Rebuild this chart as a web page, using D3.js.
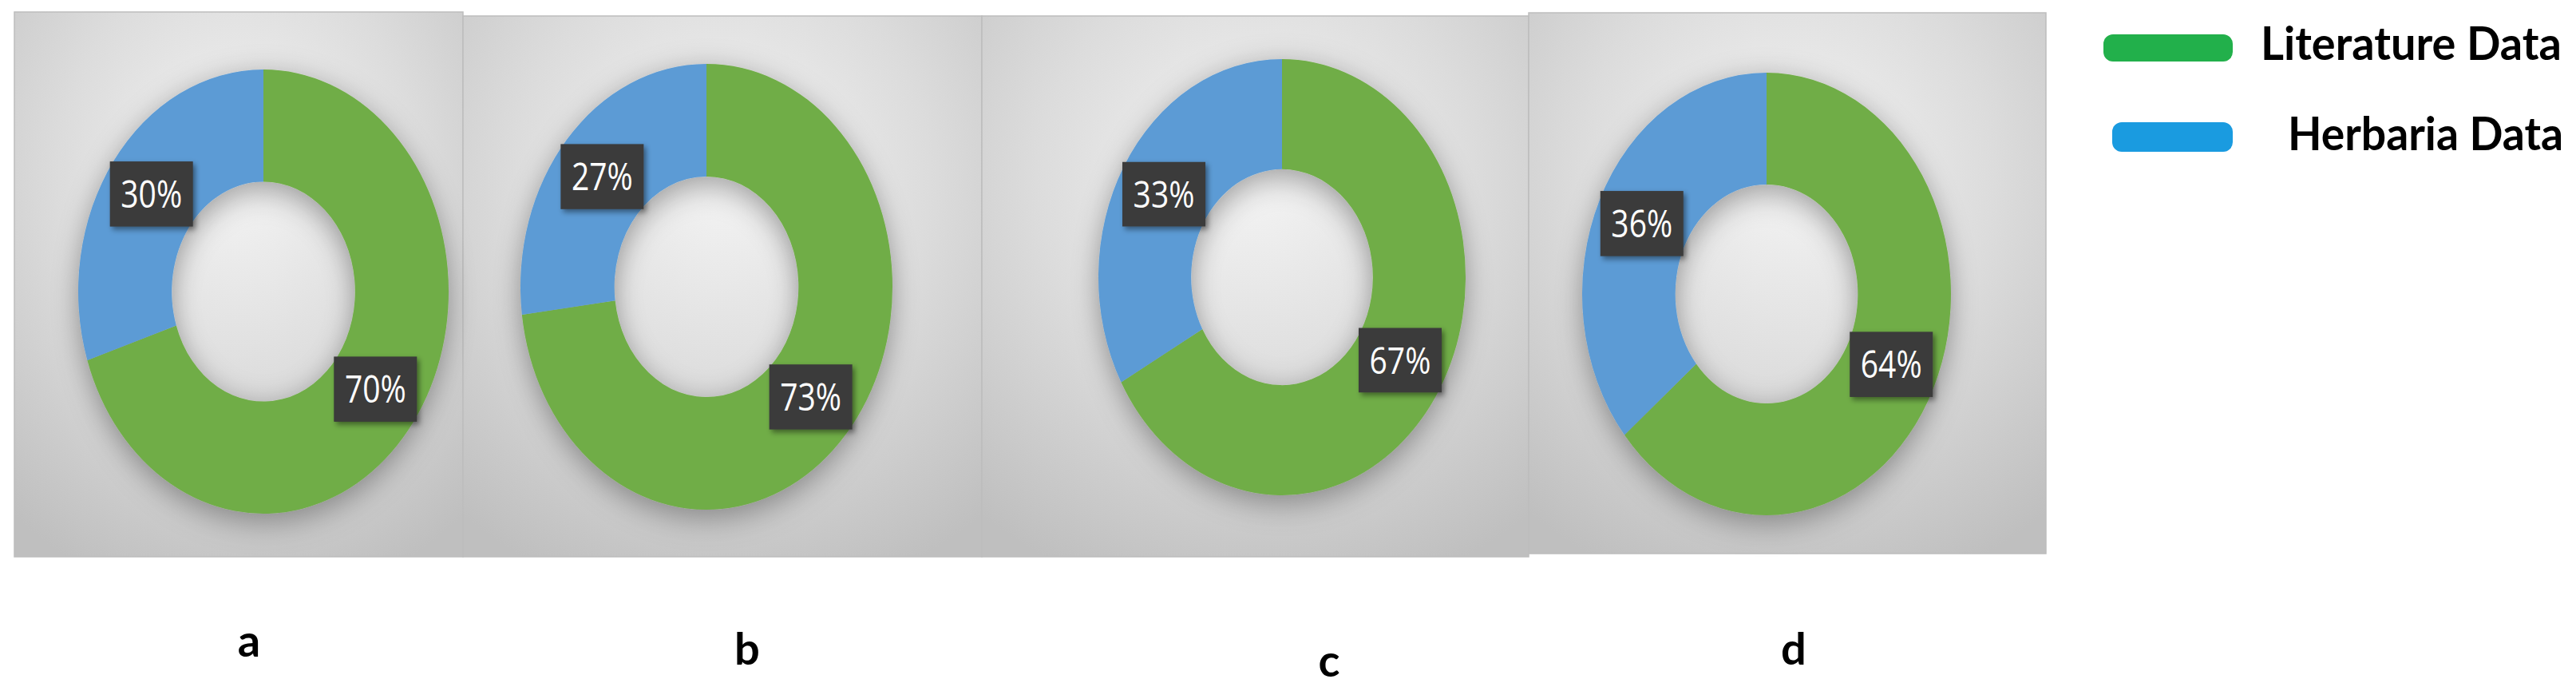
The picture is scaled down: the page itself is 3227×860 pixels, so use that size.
<!DOCTYPE html>
<html>
<head>
<meta charset="utf-8">
<script src="https://cdn.jsdelivr.net/npm/d3@7"></script>
<style>
  body { margin: 0; background: #fff; }
  svg { display: block; }
</style>
</head>
<body>
<div id="chart"></div>
<script>
// Data
const panelNames = ["a", "b", "c", "d"];
const seriesNames = ["Literature Data", "Herbaria Data"];
const literatureData = [70, 73, 67, 64];
const herbariaData = [30, 27, 33, 36];

// Layout (pixels)
const width = 3227, height = 860;
const panelBoxes = [
    { x0: 18, x1: 580, y0: 15, y1: 697 },
    { x0: 580, x1: 1230, y0: 20, y1: 697 },
    { x0: 1230, x1: 1915, y0: 20, y1: 697 },
    { x0: 1915, x1: 2563, y0: 16, y1: 693 }
];
const donutCenters = [[330, 365], [885, 359], [1606, 347], [2213, 368]];
const donutRx = [232, 233, 230, 231];
const donutRy = [278, 279, 273, 277];
const letterPos = [[312, 822], [936, 832], [1665, 847], [2247, 832]];

const color = d3.scaleOrdinal().domain(seriesNames).range(["#70ad47", "#5b9bd5"]);
const legendColor = d3.scaleOrdinal().domain(seriesNames).range(["#22b04b", "#1a9be0"]);

const svg = d3.select("#chart")
    .append("svg")
    .attr("width", width)
    .attr("height", height);

const defs = svg.append("defs");

// Panel background gradient
const grad = defs.append("radialGradient")
    .attr("id", "panelBg")
    .attr("cx", 0.5).attr("cy", 0.3).attr("r", 0.8);
grad.append("stop").attr("offset", 0).attr("stop-color", "#f4f4f4");
grad.append("stop").attr("offset", 0.5).attr("stop-color", "#dcdcdc");
grad.append("stop").attr("offset", 1).attr("stop-color", "#bfbfbf");

// Soft shadow for the rings and the label boxes
defs.append("filter").attr("id", "ringShadow")
    .attr("x", -0.3).attr("y", -0.3).attr("width", 1.6).attr("height", 1.6)
    .append("feDropShadow")
    .attr("dx", 0).attr("dy", 8).attr("stdDeviation", 16)
    .attr("flood-color", "#000").attr("flood-opacity", 0.35);

defs.append("filter").attr("id", "boxShadow")
    .attr("x", -0.3).attr("y", -0.3).attr("width", 1.6).attr("height", 1.6)
    .append("feDropShadow")
    .attr("dx", 3).attr("dy", 3).attr("stdDeviation", 3)
    .attr("flood-color", "#000").attr("flood-opacity", 0.45);

// Panels
svg.selectAll("rect.panel")
    .data(panelBoxes)
    .join("rect")
    .attr("class", "panel")
    .attr("x", d => d.x0)
    .attr("y", d => d.y0)
    .attr("width", d => d.x1 - d.x0)
    .attr("height", d => d.y1 - d.y0)
    .attr("fill", "url(#panelBg)")
    .attr("stroke", "#bdbdbd")
    .attr("stroke-width", 1.5);

const pie = d3.pie().sort(null).value(d => d.value);
const innerRatio = 0.495;

panelNames.forEach((name, i) => {
    const values = [
        { key: seriesNames[0], value: literatureData[i] },
        { key: seriesNames[1], value: herbariaData[i] }
    ];
    const rx = donutRx[i];
    const arc = d3.arc().innerRadius(rx * innerRatio).outerRadius(rx);

    // draw as a circle and stretch it vertically like the original
    const g = svg.append("g")
        .attr("transform", `translate(${donutCenters[i][0]},${donutCenters[i][1]}) scale(1,${donutRy[i] / rx})`);

    g.append("g")
        .attr("filter", "url(#ringShadow)")
        .selectAll("path")
        .data(pie(values))
        .join("path")
        .attr("d", arc)
        .attr("fill", d => color(d.data.key));

    const labels = g.selectAll("g.lbl")
        .data(pie(values))
        .join("g")
        .attr("class", "lbl")
        .attr("transform", d => `translate(${arc.centroid(d)})`);

    labels.append("rect")
        .attr("x", -52).attr("y", -34)
        .attr("width", 104).attr("height", 68)
        .attr("fill", "#3a3a3a")
        .attr("filter", "url(#boxShadow)");

    labels.append("text")
        .attr("text-anchor", "middle")
        .attr("dy", "0.36em")
        .attr("fill", "#fff")
        .style("font-family", "'Open Sans', sans-serif")
        .style("font-size", "39px")
        .text(d => d.data.value + "%");
});

// Panel letters
svg.selectAll("text.letter")
    .data(panelNames)
    .join("text")
    .attr("class", "letter")
    .attr("x", (d, i) => letterPos[i][0])
    .attr("y", (d, i) => letterPos[i][1])
    .attr("text-anchor", "middle")
    .attr("fill", "#000")
    .style("font-family", "Lato, sans-serif")
    .style("font-weight", "bold")
    .style("font-size", "56px")
    .text(d => d);

// Legend
const legendRows = [
    { swatch: [2635, 43, 162, 34], text: [2832, 75, 377] },
    { swatch: [2646, 153, 151, 37], text: [2866, 188, 345] }
];
const legend = svg.selectAll("g.legend")
    .data(seriesNames)
    .join("g")
    .attr("class", "legend");

legend.append("rect")
    .attr("x", (d, i) => legendRows[i].swatch[0])
    .attr("y", (d, i) => legendRows[i].swatch[1])
    .attr("width", (d, i) => legendRows[i].swatch[2])
    .attr("height", (d, i) => legendRows[i].swatch[3])
    .attr("rx", 12)
    .attr("fill", d => legendColor(d));

legend.append("text")
    .attr("x", (d, i) => legendRows[i].text[0])
    .attr("y", (d, i) => legendRows[i].text[1])
    .attr("textLength", (d, i) => legendRows[i].text[2])
    .attr("lengthAdjust", "spacingAndGlyphs")
    .attr("fill", "#000")
    .style("font-family", "Lato, sans-serif")
    .style("font-weight", "bold")
    .style("font-size", "58px")
    .text(d => d);
</script>
</body>
</html>
